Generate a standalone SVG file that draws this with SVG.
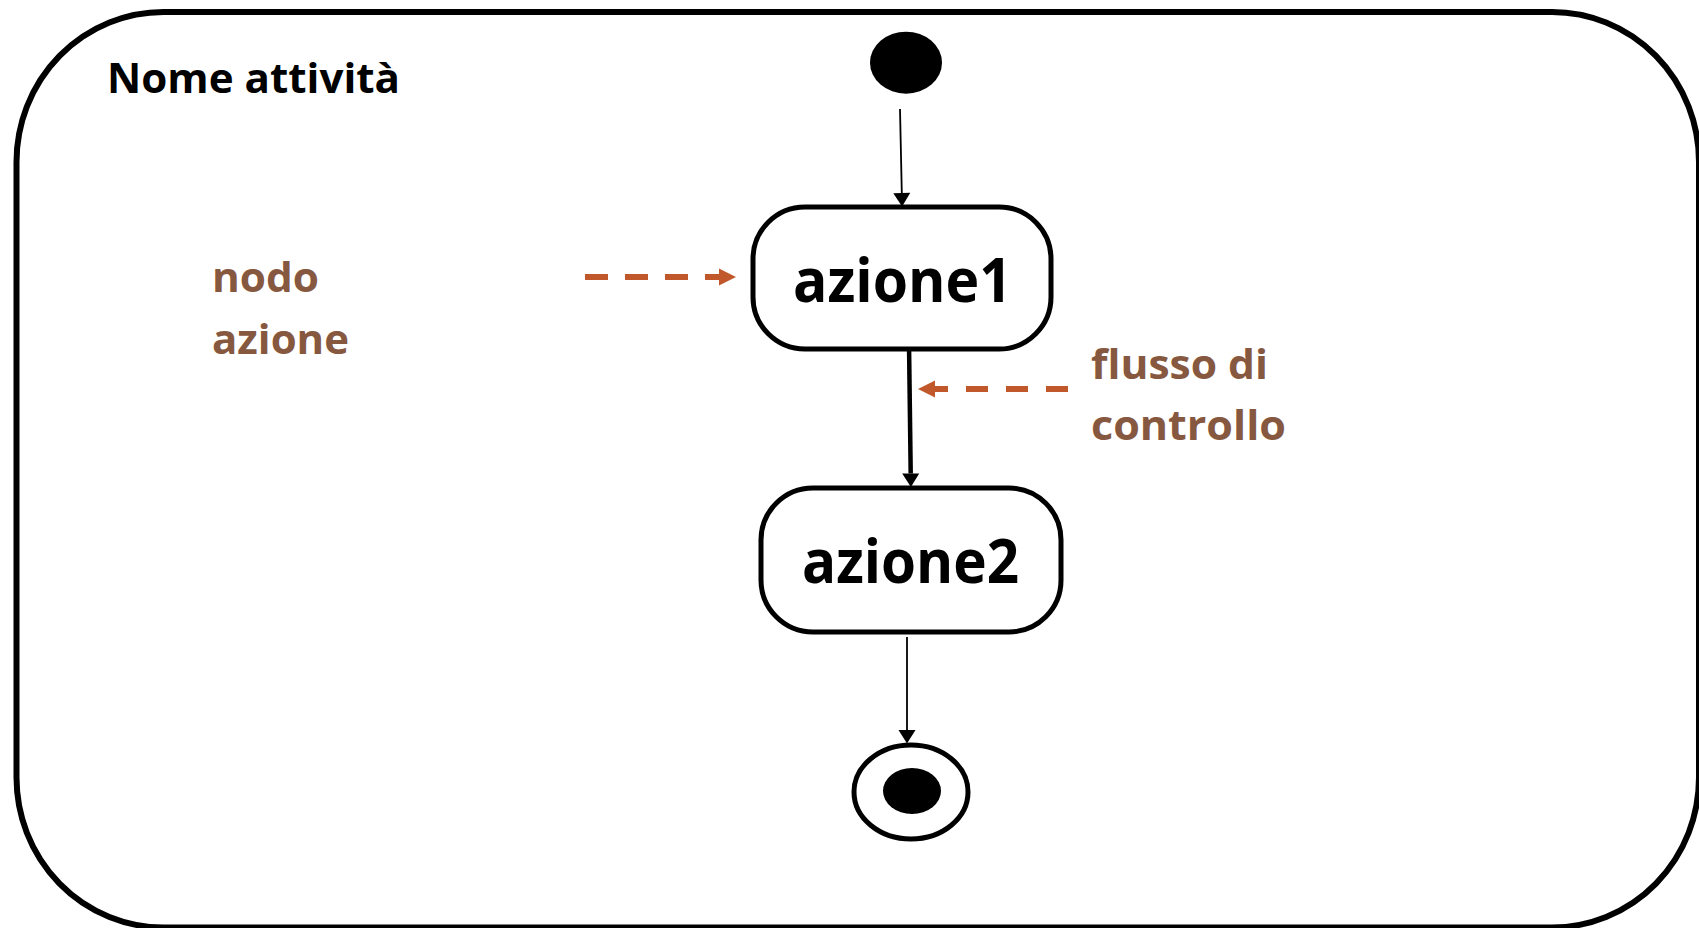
<svg xmlns="http://www.w3.org/2000/svg" width="1699" height="928" viewBox="0 0 1699 928">
  <style>
    .frame { fill: #ffffff; stroke: #000000; stroke-width: 6; }
    .box { fill: #ffffff; stroke: #000000; stroke-width: 5; }
    .lbl { font-family: "Open Sans", Lato, "Liberation Sans", sans-serif; font-weight: bold; fill: #000000; }
    .note { font-family: "Open Sans", Lato, "Liberation Sans", sans-serif; font-weight: bold; fill: #875840; }
    .flow { fill: none; stroke: #000000; }
    .hint { fill: none; stroke: #C0582B; stroke-width: 6; }
  </style>
  <defs>
    <marker id="ah" markerUnits="userSpaceOnUse" markerWidth="14" markerHeight="18" refX="0" refY="8.5" orient="auto" overflow="visible">
      <path d="M0,0 L13.5,8.5 L0,17 z" fill="#000000"/>
    </marker>
    <marker id="oh" markerUnits="userSpaceOnUse" markerWidth="19" markerHeight="18" refX="0" refY="8.5" orient="auto" overflow="visible">
      <path d="M0,0 L17,8.5 L0,17 z" fill="#C0582B"/>
    </marker>
  </defs>

  <rect class="frame" x="16.5" y="12" width="1682.5" height="915.5" rx="147" ry="150"/>
  <text class="lbl" x="107" y="93" font-size="41" textLength="293" lengthAdjust="spacingAndGlyphs">Nome attività</text>

  <g id="connectors">
    <path class="flow" d="M900,109 L901.8,193" stroke-width="1.8" marker-end="url(#ah)"/>
    <path class="flow" d="M909,343 L910.7,473.5" stroke-width="4.5" marker-end="url(#ah)"/>
    <path class="flow" d="M907,637 L907,730" stroke-width="1.8" marker-end="url(#ah)"/>
    <path class="hint" d="M585,277 L719,277" stroke-dasharray="23 17" marker-end="url(#oh)"/>
    <path class="hint" d="M1068,389 L935,389" stroke-dasharray="22 18" marker-end="url(#oh)"/>
  </g>

  <g id="initial">
    <ellipse cx="906" cy="62.7" rx="36" ry="31" fill="#000000"/>
  </g>

  <g id="azione1">
    <rect class="box" x="753" y="207" width="298" height="142" rx="52" ry="52"/>
    <text class="lbl" x="793" y="302" font-size="61" textLength="219" lengthAdjust="spacingAndGlyphs">azione1</text>
  </g>

  <g id="azione2">
    <rect class="box" x="761" y="488" width="300" height="144" rx="52" ry="52"/>
    <text class="lbl" x="802" y="583" font-size="61" textLength="217" lengthAdjust="spacingAndGlyphs">azione2</text>
  </g>

  <g id="final">
    <ellipse class="box" cx="911" cy="792" rx="57" ry="47"/>
    <ellipse cx="912" cy="791" rx="29" ry="23" fill="#000000"/>
  </g>

  <g id="note-nodo">
    <text class="note" x="212" y="292" font-size="41" textLength="107" lengthAdjust="spacingAndGlyphs">nodo</text>
    <text class="note" x="212" y="354" font-size="41" textLength="137" lengthAdjust="spacingAndGlyphs">azione</text>
  </g>

  <g id="note-flusso">
    <text class="note" x="1091" y="379" font-size="41" textLength="177" lengthAdjust="spacingAndGlyphs">flusso di</text>
    <text class="note" x="1091" y="440" font-size="41" textLength="195" lengthAdjust="spacingAndGlyphs">controllo</text>
  </g>
</svg>
